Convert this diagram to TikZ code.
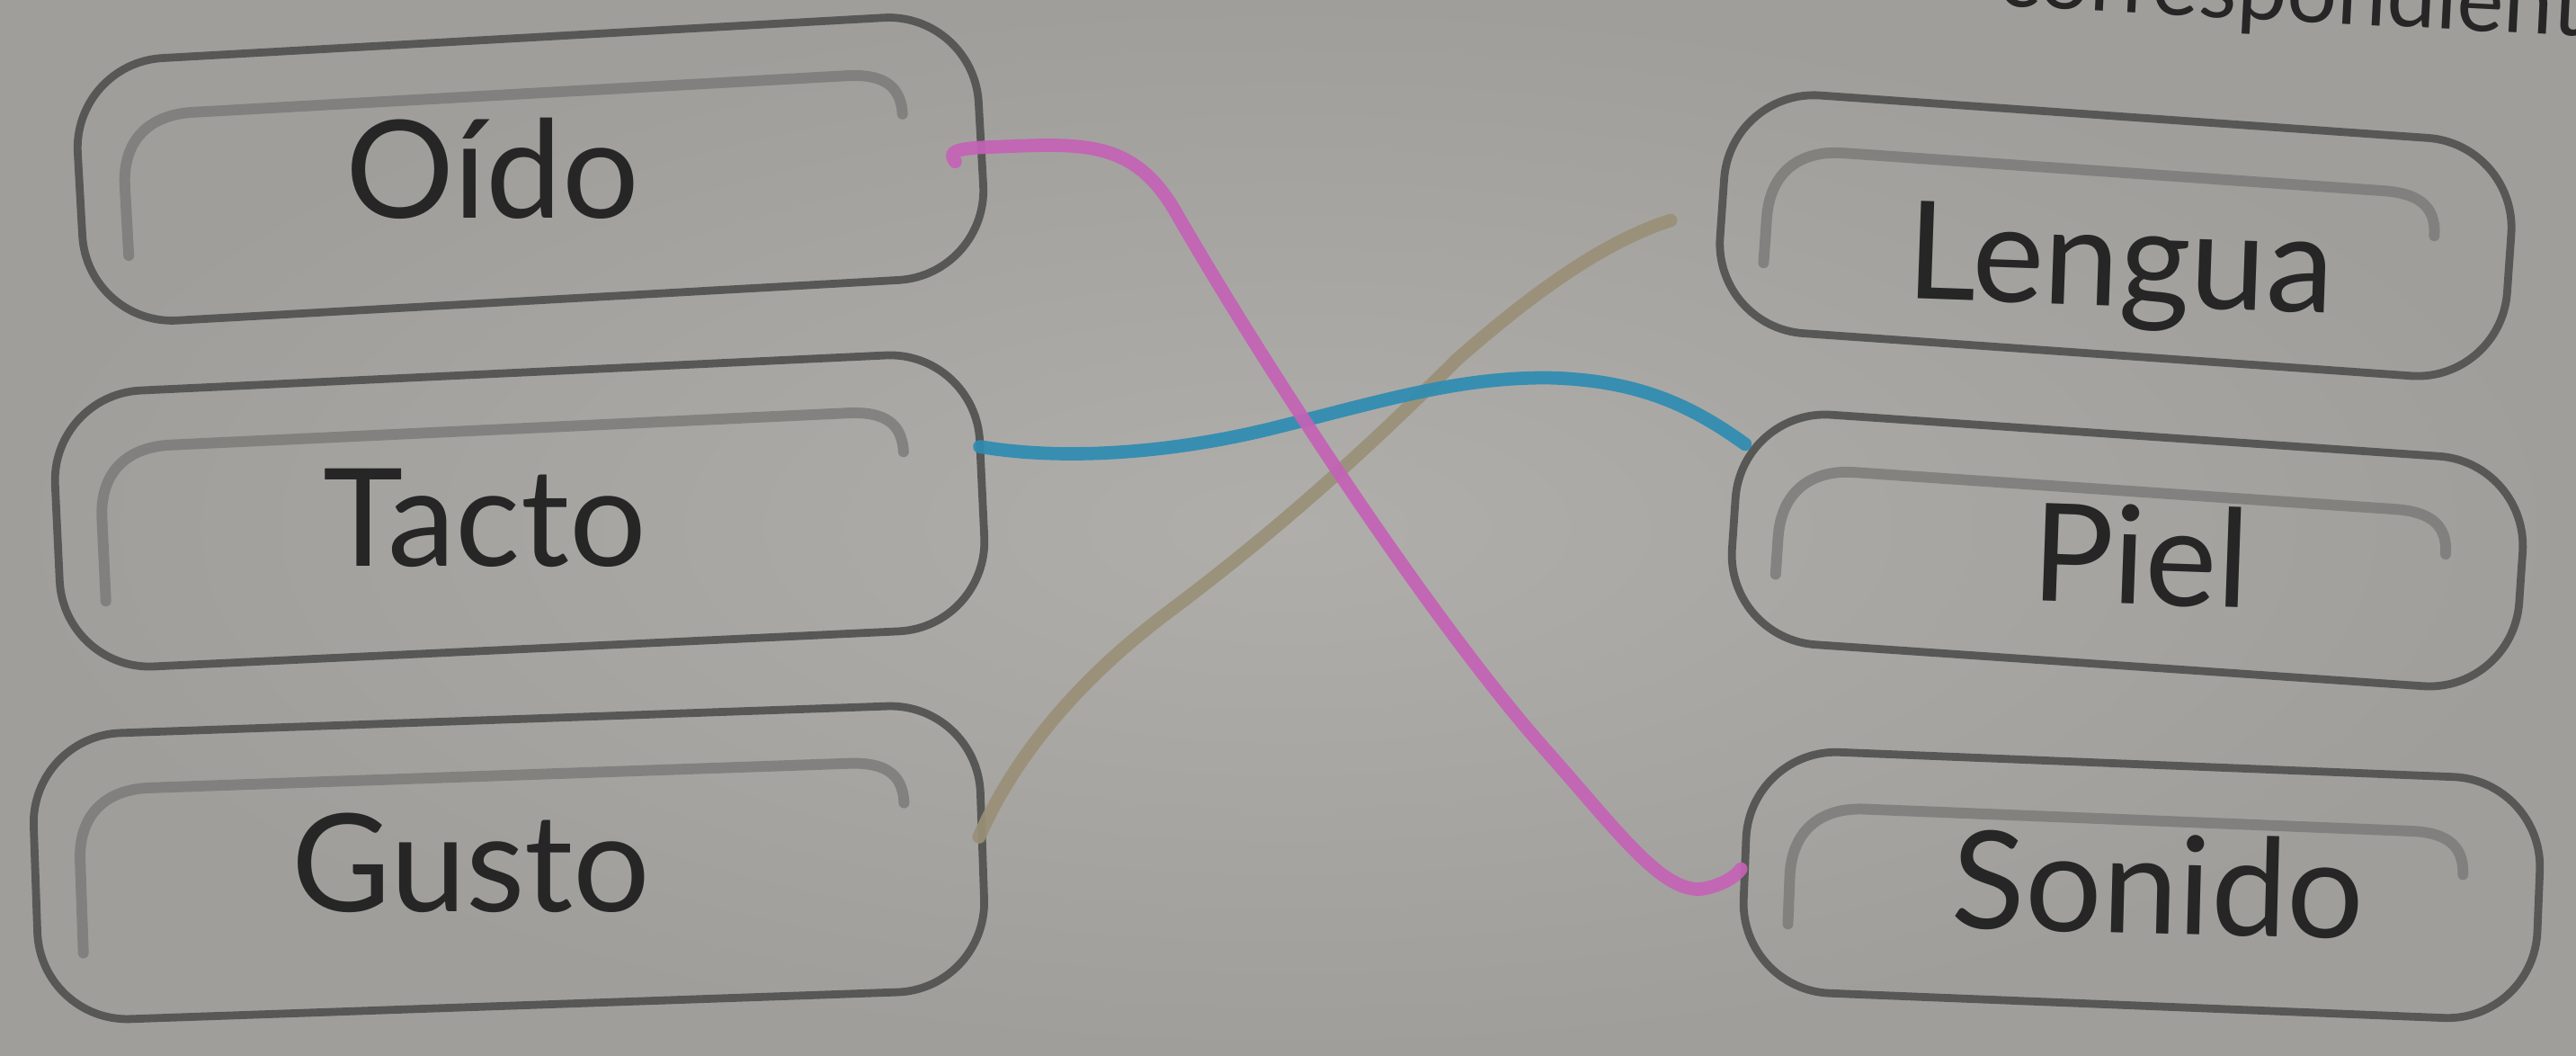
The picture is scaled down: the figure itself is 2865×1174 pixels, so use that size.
\documentclass[tikz,border=0pt]{standalone}
\usepackage{fontspec}
\setmainfont{Lato}
\usetikzlibrary{calc}
\definecolor{paperin}{HTML}{B0AEAB}
\definecolor{paperout}{HTML}{A09E9A}
\definecolor{cardline}{HTML}{575755}
\definecolor{innergray}{HTML}{7A7977}
\definecolor{ink}{HTML}{262626}
\definecolor{pinkwire}{HTML}{C462B6}
\definecolor{bluewire}{HTML}{2E8CB2}
\definecolor{tanwire}{HTML}{9A9078}
\tikzset{
  card/.style={draw=cardline, line width=2.5pt, rounded corners=1cm, inner sep=0pt},
  innerline/.style={draw=innergray, line width=3.4pt, line cap=round, opacity=0.8},
  word/.style={text=ink, font=\fontsize{43}{50}\selectfont, inner sep=0pt, anchor=base},
  wire/.style={line width=4.2pt, line cap=round, line join=round, opacity=0.92},
}
% name, cx, cy, angle, width (cm), height (cm)
\newcommand\drawcard[6]{%
  \begin{scope}[shift={(#2,#3)},rotate=#4]
    \node[card, transform shape, minimum width=#5cm, minimum height=#6cm] (#1) at (0,0) {};
    \draw[innerline] ({-#5*50+50},{#6*50-75}) -- ({-#5*50+50},{-#6*50+140})
      .. controls ({-#5*50+50},{-#6*50+90}) and ({-#5*50+80},{-#6*50+62}) .. ({-#5*50+130},{-#6*50+62})
      -- ({#5*50-145},{-#6*50+62})
      .. controls ({#5*50-110},{-#6*50+62}) and ({#5*50-85},{-#6*50+72}) .. ({#5*50-85},{-#6*50+108});
  \end{scope}}
\begin{document}
\begin{tikzpicture}[x=0.01cm,y=-0.01cm]
  \clip (0,0) rectangle (2865,1174);
  \shade[inner color=paperin, outer color=paperout] (0,0) rectangle (2865,1174);

  % partial heading at the top edge
  \node[text=ink, font=\fontsize{28}{32}\selectfont, inner sep=0pt, anchor=base west, rotate=-3] (head) at (2444,18) {\llap{corre}spondiente};

  % cards
  \drawcard{oido}{590}{188}{3.2}{10.03}{2.92}
  \drawcard{tacto}{578}{568}{2.7}{10.29}{3.07}
  \drawcard{gusto}{566}{959}{2}{10.53}{3.18}
  \drawcard{lengua}{2353}{262}{-4}{8.77}{2.65}
  \drawcard{piel}{2366}{612}{-3.9}{8.77}{2.56}
  \drawcard{sonido}{2382}{984}{-2.3}{8.83}{2.68}

  % words
  \node[word] (toido) at (548,243) {Oído};
  \node[word] (ttacto) at (539,630) {Tacto};
  \node[word] (tgusto) at (524,1014) {Gusto};
  \node[word, rotate=-2] (tlengua) at (2357,340) {Lengua};
  \node[word, rotate=-2] (tpiel) at (2379,672) {Piel};
  \node[word, rotate=-1.5] (tsonido) at (2399,1038) {Sonido};

  % free end of the tan line
  \coordinate (tanend) at (1858,245);

  % connectors
  \draw[wire, draw=tanwire] ([xshift=-0.08cm,yshift=0.1cm]gusto.east)
    .. controls (1120,860) and (1180,770) .. (1300,680)
    .. controls (1420,590) and (1520,500) .. (1620,400)
    .. controls (1700,330) and (1780,270) .. (tanend);
  \draw[wire, draw=bluewire] ([xshift=-0.07cm,yshift=0.47cm]tacto.east)
    .. controls (1180,512) and (1300,505) .. (1420,475)
    .. controls (1540,445) and (1620,420) .. (1720,420)
    .. controls (1820,422) and (1880,450) .. ([xshift=0.17cm,yshift=0.88cm]piel.west);
  \draw[wire, draw=pinkwire] ([xshift=-0.33cm,yshift=-0.2cm]oido.east)
    .. controls (1055,170) and (1060,166) .. (1090,164)
    .. controls (1200,160) and (1260,150) .. (1310,240)
    .. controls (1420,430) and (1600,700) .. (1720,835)
    .. controls (1800,925) and (1850,995) .. (1895,988)
    .. controls (1915,984) and (1930,975) .. (sonido.west);
\end{tikzpicture}
\end{document}
